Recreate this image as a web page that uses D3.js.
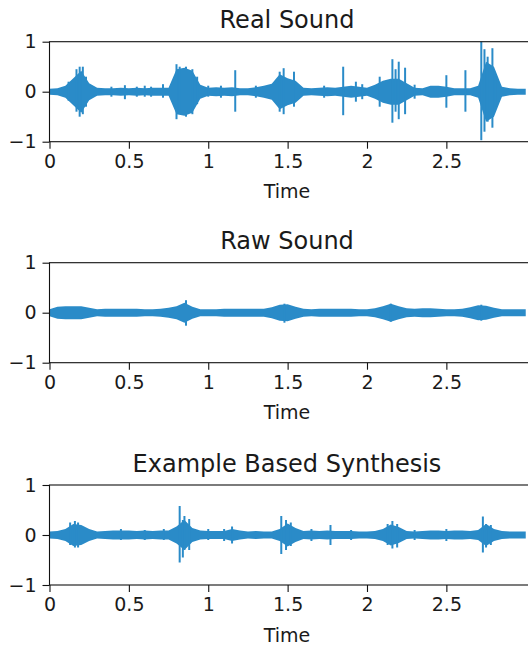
<!DOCTYPE html>
<html>
<head>
  <meta charset="utf-8">
  <script src="https://d3js.org/d3.v7.min.js"></script>
  <style>
    body { margin: 0; background: #fff; overflow: hidden; }
    svg { display: block; font-family: "DejaVu Sans", sans-serif; }
    .tick text { font-size: 19px; fill: #1a1a1a; }
    .title { font-size: 24px; fill: #1a1a1a; text-anchor: middle; }
    .xlabel { font-size: 19px; fill: #1a1a1a; text-anchor: middle; }
  </style>
</head>
<body>
<div id="chart"></div>
<script>
  // sample times of the amplitude envelope (seconds)
  var envTime = [0, 0.05, 0.1, 0.15, 0.2, 0.25, 0.3, 0.35, 0.4, 0.45, 0.5, 0.55, 0.6, 0.65, 0.7, 0.75,
    0.8, 0.85, 0.9, 0.95, 1.0, 1.05, 1.1, 1.15, 1.2, 1.25, 1.3, 1.35, 1.4, 1.45, 1.5, 1.55,
    1.6, 1.65, 1.7, 1.75, 1.8, 1.85, 1.9, 1.95, 2.0, 2.05, 2.1, 2.15, 2.2, 2.25, 2.3, 2.35,
    2.4, 2.45, 2.5, 2.55, 2.6, 2.65, 2.7, 2.75, 2.8, 2.85, 2.9, 2.95, 3.0];

  // envelope amplitude
  var realEnv = [0.06, 0.07, 0.12, 0.27, 0.42, 0.17, 0.08, 0.07, 0.07, 0.08, 0.07, 0.08, 0.07, 0.08, 0.08, 0.08,
    0.45, 0.48, 0.42, 0.14, 0.08, 0.09, 0.08, 0.09, 0.07, 0.07, 0.09, 0.12, 0.16, 0.35, 0.27, 0.22,
    0.08, 0.07, 0.08, 0.09, 0.08, 0.1, 0.12, 0.1, 0.08, 0.14, 0.22, 0.26, 0.26, 0.17, 0.08, 0.07,
    0.12, 0.12, 0.1, 0.07, 0.07, 0.07, 0.12, 0.6, 0.5, 0.1, 0.07, 0.06, 0.06];
  var rawEnv = [0.07, 0.12, 0.13, 0.13, 0.13, 0.1, 0.07, 0.08, 0.08, 0.08, 0.08, 0.08, 0.07, 0.07, 0.08, 0.1,
    0.13, 0.2, 0.12, 0.07, 0.07, 0.07, 0.08, 0.08, 0.08, 0.08, 0.08, 0.08, 0.11, 0.16, 0.17, 0.12,
    0.08, 0.07, 0.08, 0.08, 0.08, 0.08, 0.08, 0.07, 0.07, 0.09, 0.13, 0.18, 0.13, 0.09, 0.08, 0.09,
    0.09, 0.08, 0.07, 0.07, 0.08, 0.11, 0.15, 0.14, 0.1, 0.07, 0.07, 0.07, 0.07];
  var synthEnv = [0.07, 0.08, 0.12, 0.22, 0.2, 0.12, 0.07, 0.08, 0.09, 0.09, 0.09, 0.08, 0.09, 0.08, 0.09, 0.09,
    0.17, 0.3, 0.14, 0.09, 0.08, 0.08, 0.08, 0.12, 0.09, 0.07, 0.08, 0.07, 0.07, 0.12, 0.23, 0.14,
    0.08, 0.09, 0.08, 0.09, 0.08, 0.08, 0.08, 0.07, 0.07, 0.08, 0.12, 0.21, 0.16, 0.08, 0.07, 0.08,
    0.09, 0.09, 0.08, 0.09, 0.09, 0.08, 0.1, 0.22, 0.12, 0.08, 0.07, 0.07, 0.07];

  // peaks: [time, max, min]
  var realPeaks = [[0.12,0.2,-0.18],[0.17,0.45,-0.4],[0.19,0.5,-0.5],[0.21,0.5,-0.45],[0.23,0.3,-0.3],
    [0.39,0.1,-0.1],[0.475,0.13,-0.15],[0.55,0.1,-0.1],[0.6,0.12,-0.1],[0.64,0.1,-0.1],[0.715,0.15,-0.12],
    [0.8,0.55,-0.55],[0.82,0.5,-0.4],[0.86,0.5,-0.5],[0.9,0.45,-0.45],[0.93,0.3,-0.25],[1.0,0.12,-0.1],
    [1.08,0.12,-0.12],[1.17,0.43,-0.4],[1.3,0.12,-0.12],[1.45,0.4,-0.4],[1.475,0.47,-0.45],[1.54,0.4,-0.3],
    [1.73,0.12,-0.12],[1.85,0.5,-0.47],[1.93,0.2,-0.2],[1.97,0.15,-0.15],[2.08,0.3,-0.3],[2.16,0.65,-0.62],
    [2.18,0.45,-0.4],[2.2,0.6,-0.55],[2.24,0.48,-0.45],[2.3,0.14,-0.14],[2.5,0.33,-0.32],[2.62,0.43,-0.4],
    [2.72,1.0,-0.97],[2.74,0.85,-0.8],[2.76,0.7,-0.6],[2.79,0.87,-0.72],[2.81,0.3,-0.3]];
  var rawPeaks = [[0.86,0.25,-0.26],[1.48,0.18,-0.2],[2.15,0.18,-0.18],[2.72,0.16,-0.16]];
  var synthPeaks = [[0.13,0.25,-0.2],[0.16,0.28,-0.25],[0.18,0.25,-0.25],[0.45,0.12,-0.1],[0.6,0.1,-0.1],
    [0.72,0.12,-0.1],[0.82,0.58,-0.55],[0.84,0.3,-0.45],[0.85,0.38,-0.3],[0.88,0.32,-0.3],[1.0,0.12,-0.1],
    [1.1,0.12,-0.12],[1.15,0.17,-0.17],[1.46,0.38,-0.38],[1.49,0.3,-0.3],[1.52,0.25,-0.22],[1.65,0.12,-0.12],
    [1.77,0.2,-0.2],[1.9,0.1,-0.1],[2.13,0.22,-0.2],[2.16,0.28,-0.27],[2.19,0.22,-0.25],[2.3,0.1,-0.1],
    [2.5,0.12,-0.12],[2.73,0.37,-0.35],[2.75,0.22,-0.25],[2.78,0.2,-0.2]];

  var titles = ["Real Sound", "Raw Sound", "Example Based Synthesis"];
  var xTicks = [0, 0.5, 1, 1.5, 2, 2.5];
  var yTicks = [-1, 0, 1];

  var panels = [
    {title: titles[0], env: realEnv, peaks: realPeaks, top: 41.7},
    {title: titles[1], env: rawEnv, peaks: rawPeaks, top: 262.7},
    {title: titles[2], env: synthEnv, peaks: synthPeaks, top: 485}
  ];

  var width = 528, height = 652;
  var left = 49.5, plotH = 100;
  var blue = "#2a8bc8";

  var svg = d3.select("#chart").append("svg")
    .attr("width", width)
    .attr("height", height);

  // axes run past the right edge of the window
  var x = d3.scaleLinear().domain([0, 3.03]).range([left, 530.5]);

  panels.forEach(function (p) {
    var y = d3.scaleLinear().domain([-1, 1]).range([p.top + plotH, p.top]);
    var g = svg.append("g");

    var area = d3.area()
      .x(function (d, i) { return x(envTime[i]); })
      .y0(function (d) { return y(-d); })
      .y1(function (d) { return y(d); });

    g.append("path")
      .datum(p.env)
      .attr("d", area)
      .attr("fill", blue);

    g.selectAll(".peak")
      .data(p.peaks)
      .enter()
      .append("line")
        .attr("x1", function (d) { return x(d[0]); })
        .attr("x2", function (d) { return x(d[0]); })
        .attr("y1", function (d) { return y(d[1]); })
        .attr("y2", function (d) { return y(d[2]); })
        .attr("stroke", blue)
        .attr("stroke-width", 2);

    // frame
    g.append("rect")
      .attr("x", left)
      .attr("y", p.top)
      .attr("width", 600)
      .attr("height", plotH)
      .attr("fill", "none")
      .attr("stroke", "#111")
      .attr("stroke-width", 1.1);

    var xAxis = g.append("g")
      .attr("transform", "translate(0," + (p.top + plotH) + ")")
      .call(d3.axisBottom(x).tickValues(xTicks).tickSize(7).tickPadding(6)
        .tickFormat(function (d) { return String(d); }));
    var yAxis = g.append("g")
      .attr("transform", "translate(" + left + ",0)")
      .call(d3.axisLeft(y).tickValues(yTicks).tickSize(7).tickPadding(6)
        .tickFormat(function (d) { return d < 0 ? "\u2212" + Math.abs(d) : String(d); }));
    [xAxis, yAxis].forEach(function (a) {
      a.select(".domain").remove();
      a.selectAll(".tick line").attr("stroke", "#111").attr("stroke-width", 1.1);
      a.attr("font-family", null).attr("font-size", null);
    });

    g.append("text")
      .attr("class", "title")
      .attr("x", 287)
      .attr("y", p.top - 13.5)
      .text(p.title);

    g.append("text")
      .attr("class", "xlabel")
      .attr("x", 287)
      .attr("y", p.top + plotH + 56.5)
      .text("Time");
  });
</script>
</body>
</html>
